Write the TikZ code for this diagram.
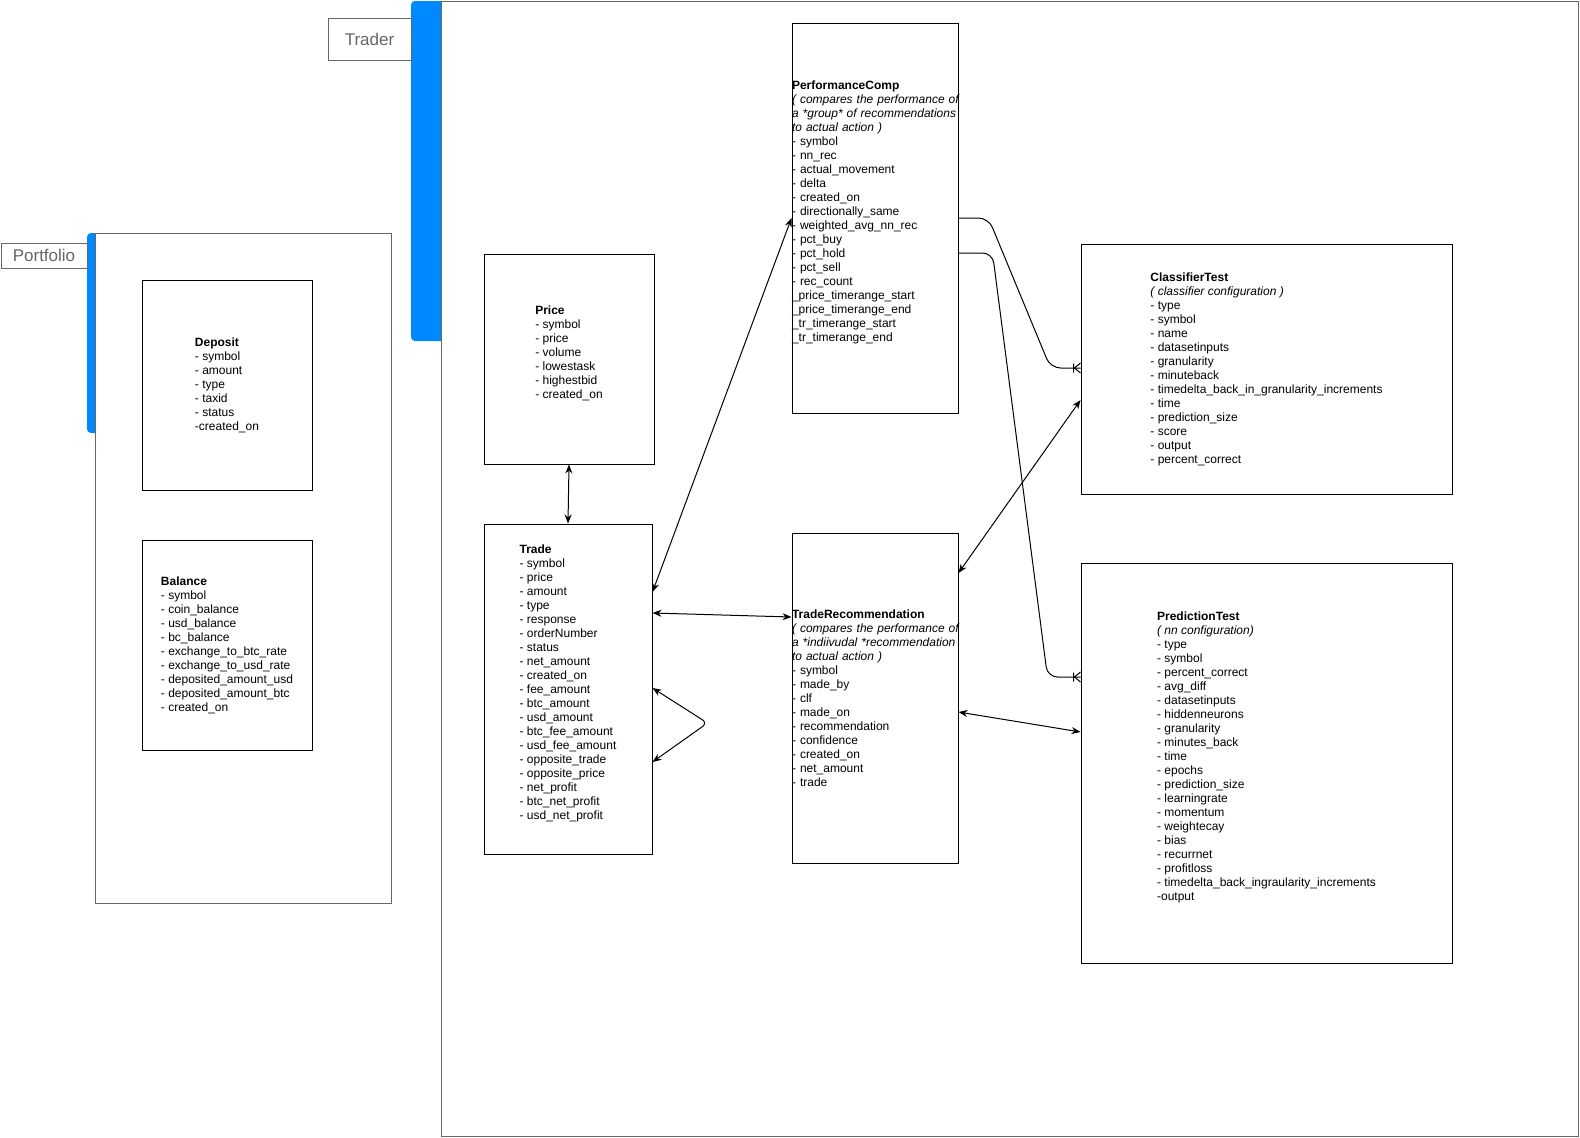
\documentclass[tikz,border=0pt]{standalone}
\usepackage{fontspec}
\setmainfont{Liberation Sans}
\usepackage{tikz}
\usetikzlibrary{arrows.meta,calc,decorations.markings}
\definecolor{swimblue}{HTML}{0088FF}
\definecolor{framegray}{HTML}{666666}
\tikzset
{
	entitybox/.style = {rectangle, draw=black, line width=1pt, align=left, font=\fontsize{12}{14}\selectfont},
	flushbox/.style = {entitybox, inner sep=0pt, text width=#1, minimum width=#1},
	grouplabel/.style = {rectangle, draw=framegray, line width=1pt, text=framegray, font=\fontsize{17}{20}\selectfont},
	grouprect/.style = {draw=framegray, line width=1pt, fill=white},
	link/.style = {draw=black, line width=1pt},
	manyend/.style = {postaction={decorate, decoration={markings, mark=at position 1 with {\draw[line width=1pt, sharp corners] (-7pt,-4.5pt) -- (-7pt,4.5pt) (0pt,-5pt) -- (-6pt,0pt) -- (0pt,5pt);}}}}
}

\begin{document}
\begin{tikzpicture}[x=1pt, y=-1pt, >={Stealth[length=9pt,width=7pt]}]
\useasboundingbox (0,0) rectangle (1580,1138);
\fill[swimblue, rounded corners=4pt] (87,233) rectangle (101,433);
\draw[grouprect] (95,233) rectangle (391,903);
\node[grouplabel, minimum width=86pt, minimum height=25pt] (portfoliolabel) at (44,255.5) {Portfolio};
\fill[swimblue, rounded corners=4pt] (411,1) rectangle (447,341);
\draw[grouprect] (441,1) rectangle (1578,1136);
\node[grouplabel, minimum width=83pt, minimum height=42pt] (traderlabel) at (369.5,39) {Trader};

\node[entitybox, minimum width=170pt, minimum height=210pt] (deposit) at (227,385)
  {\textbf{Deposit}\\- symbol\\- amount\\- type\\- taxid\\- status\\-created\_on};
\node[entitybox, minimum width=170pt, minimum height=210pt] (balance) at (227,645)
  {\textbf{Balance}\\- symbol\\- coin\_balance\\- usd\_balance\\- bc\_balance\\- exchange\_to\_btc\_rate\\- exchange\_to\_usd\_rate\\- deposited\_amount\_usd\\- deposited\_amount\_btc\\- created\_on};
\node[entitybox, minimum width=170pt, minimum height=210pt] (price) at (569,359)
  {\textbf{Price}\\- symbol\\- price\\- volume\\- lowestask\\- highestbid\\- created\_on\\ \mbox{}};
\node[entitybox, minimum width=168pt, minimum height=330pt] (trade) at (568,689)
  {\textbf{Trade}\\- symbol\\- price\\- amount\\- type\\- response\\- orderNumber\\- status\\- net\_amount\\- created\_on\\- fee\_amount\\- btc\_amount\\- usd\_amount\\- btc\_fee\_amount\\- usd\_fee\_amount\\- opposite\_trade\\- opposite\_price\\- net\_profit\\- btc\_net\_profit\\- usd\_net\_profit\\ \mbox{}};
\node[flushbox=166pt, minimum height=390pt] (perf) at (875,218)
  {\textbf{PerformanceComp}\\\mbox{\textit{( compares the performance of}}\\\mbox{\textit{a *group* of recommendations}}\\\textit{to actual action )}\\- symbol\\- nn\_rec\\- actual\_movement\\- delta\\- created\_on\\- directionally\_same\\- weighted\_avg\_nn\_rec\\- pct\_buy\\- pct\_hold\\- pct\_sell\\- rec\_count\\\_price\_timerange\_start\\\_price\_timerange\_end\\\_tr\_timerange\_start\\\_tr\_timerange\_end\\ \mbox{}};
\node[flushbox=166pt, minimum height=330pt] (traderec) at (875,698)
  {\textbf{TradeRecommendation}\\\mbox{\textit{( compares the performance of}}\\\mbox{\textit{a *indiivudal *recommendation}}\\\textit{to actual action )}\\- symbol\\- made\_by\\- clf\\- made\_on\\- recommendation\\- confidence\\- created\_on\\- net\_amount\\- trade};
\node[entitybox, minimum width=371pt, minimum height=250pt] (classifier) at (1266.5,369)
  {\textbf{ClassifierTest}\\\textit{( classifier configuration )}\\- type\\- symbol\\- name\\- datasetinputs\\- granularity\\- minuteback\\- timedelta\_back\_in\_granularity\_increments\\- time\\- prediction\_size\\- score\\- output\\- percent\_correct};
\node[entitybox, minimum width=371pt, minimum height=400pt] (prediction) at (1266.5,763)
  {\textbf{PredictionTest}\\\textit{( nn configuration)}\\- type\\- symbol\\- percent\_correct\\- avg\_diff\\- datasetinputs\\- hiddenneurons\\- granularity\\- minutes\_back\\- time\\- epochs\\- prediction\_size\\- learningrate\\- momentum\\- weightecay\\- bias\\- recurrnet\\- profitloss\\- timedelta\_back\_ingraularity\_increments\\-output\\ \mbox{}};

\draw[link, <->] (price.south) -- (trade.north);
\draw[link, <->] (trade.east |- 0,592) -- (perf.west |- 0,218);
\draw[link, <->] (trade.east |- 0,613) -- (traderec.west |- 0,617);
\draw[link, <->, rounded corners=6pt] (trade.east |- 0,688) -- ++(55,35) -- (trade.east |- 0,762);
\draw[link, <->] (traderec.east |- 0,573) -- (classifier.west |- 0,400);
\draw[link, <->] (traderec.east |- 0,712) -- (prediction.west |- 0,732);
\draw[link, rounded corners=10pt, manyend] (perf.east |- 0,218) -- ++(30,0) -- ($(classifier.west |- 0,368)+(-30,0)$) -- (classifier.west |- 0,368);
\draw[link, rounded corners=10pt, manyend] (perf.east |- 0,253) -- ++(34,0) -- ($(prediction.west |- 0,677)+(-33,0)$) -- (prediction.west |- 0,677);
\end{tikzpicture}
\end{document}
